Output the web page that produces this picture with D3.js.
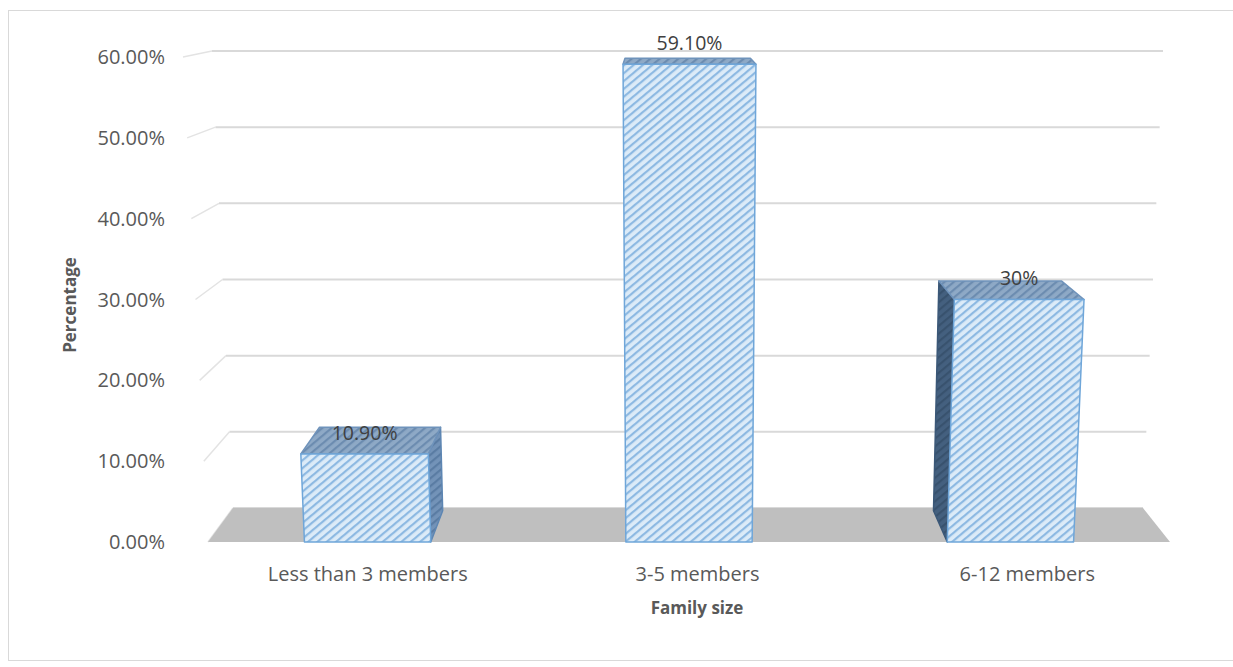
<!DOCTYPE html>
<html><head><meta charset="utf-8">
<script src="https://cdn.jsdelivr.net/npm/d3@7"></script>
<style>
body{margin:0;background:#fff}
svg{display:block}
text{font-family:"Open Sans",sans-serif}
</style>
</head><body>
<svg id="chart" width="1233" height="667"></svg>
<script>
// Family size distribution
const categories = ["Less than 3 members", "3-5 members", "6-12 members"];
const values = [0.109, 0.591, 0.30];
const valueLabels = ["10.90%", "59.10%", "30%"];
const tickValues = [0, 0.1, 0.2, 0.3, 0.4, 0.5, 0.6];
const tickLabels = ["0.00%", "10.00%", "20.00%", "30.00%", "40.00%", "50.00%", "60.00%"];
const xTitle = "Family size";
const yTitle = "Percentage";

const svg = d3.select("#chart");

// scales into the unit box (u across, v up, w into depth)
const xBand = d3.scaleBand().domain(categories).range([0, 1]).paddingInner(0.607).paddingOuter(0.3);
const yVal = d3.scaleLinear().domain([0, 0.6]).range([0, 1]);
const depth = [0, 0.92];
// category labels sit in front of the floor, spread a little wider
const labelX = d3.scaleLinear().domain([0, 1]).range([204, 1191]);

// screen corners of the perspective plot box
const box = {
  fl0: [208, 542], fl1: [183, 57], fr0: [1170, 542], fr1: [1196, 57],
  bl0: [233, 508], bl1: [212, 51], br0: [1143, 508], br1: [1163, 51]
};
const lerp = (a, b, t) => [a[0] + (b[0] - a[0]) * t, a[1] + (b[1] - a[1]) * t];
function project(u, v, w) {
  const fl = lerp(box.fl0, box.fl1, v), fr = lerp(box.fr0, box.fr1, v);
  const bl = lerp(box.bl0, box.bl1, v), br = lerp(box.br0, box.br1, v);
  return lerp(lerp(fl, fr, u), lerp(bl, br, u), w);
}
const pts = arr => arr.map(p => p.join(",")).join(" ");

// hatch patterns
const defs = svg.append("defs");
function hatch(id, bg, fg) {
  const p = defs.append("pattern").attr("id", id).attr("patternUnits", "userSpaceOnUse")
    .attr("width", 6).attr("height", 6).attr("patternTransform", "rotate(-40)");
  p.append("rect").attr("width", 6).attr("height", 6).attr("fill", bg);
  p.append("rect").attr("width", 6).attr("height", 2.2).attr("fill", fg);
}
hatch("hFront", "#dcebf8", "#8db9e2");
hatch("hTop", "#8ea9c6", "#6c8cb0");
hatch("hRight", "#7393b8", "#5a7ca3");
hatch("hLeft", "#44607f", "#38526e");

// chart border
svg.append("rect").attr("x", 8.5).attr("y", 10.5).attr("width", 1240).attr("height", 650)
  .attr("fill", "none").attr("stroke", "#d9d9d9").attr("stroke-width", 1);

// gridlines: side wall segment then back wall
const grid = svg.append("g");
tickValues.forEach(t => {
  const v = yVal(t);
  const a = project(0, v, 0), b = project(0, v, 1), c = project(1, v, 1);
  grid.append("line").attr("x1", a[0]).attr("y1", a[1]).attr("x2", b[0]).attr("y2", b[1])
    .attr("stroke", "#e3e3e3").attr("stroke-width", 1.5);
  grid.append("line").attr("x1", b[0]).attr("y1", b[1]).attr("x2", c[0]).attr("y2", c[1])
    .attr("stroke", "#d9d9d9").attr("stroke-width", 2);
});

// floor
svg.append("polygon")
  .attr("points", pts([project(0, 0, 0), project(0, 0, 1), project(1, 0, 1), project(1, 0, 0)]))
  .attr("fill", "#bfbfbf");

// y tick labels along the front edge
svg.append("g").selectAll("text").data(tickValues).join("text")
  .attr("x", 165).attr("y", d => project(0, yVal(d), 0)[1])
  .attr("dy", "0.35em").attr("text-anchor", "end")
  .attr("font-size", 20).attr("fill", "#595959")
  .text((d, i) => tickLabels[i]);

// bars
const bars = svg.append("g");
categories.forEach((c, i) => {
  const u0 = xBand(c), u1 = u0 + xBand.bandwidth();
  const v1 = yVal(values[i]);
  const [w0, w1] = depth;
  const g = bars.append("g");
  const face = (corners, fill, stroke) => g.append("polygon")
    .attr("points", pts(corners.map(p => project(...p))))
    .attr("fill", fill).attr("stroke", stroke).attr("stroke-width", 1.5).attr("stroke-linejoin", "round");
  if (project(u0, 0, w1)[0] < project(u0, 0, w0)[0] - 0.5)
    face([[u0, 0, w0], [u0, 0, w1], [u0, v1, w1], [u0, v1, w0]], "url(#hLeft)", "#3b5878");
  if (project(u1, 0, w1)[0] > project(u1, 0, w0)[0] + 0.5)
    face([[u1, 0, w0], [u1, 0, w1], [u1, v1, w1], [u1, v1, w0]], "url(#hRight)", "#5d86b3");
  face([[u0, v1, w0], [u0, v1, w1], [u1, v1, w1], [u1, v1, w0]], "url(#hTop)", "#6f93bb");
  face([[u0, 0, w0], [u0, v1, w0], [u1, v1, w0], [u1, 0, w0]], "url(#hFront)", "#6fa6d9");
});

// value labels above each bar's front top edge
categories.forEach((c, i) => {
  const lp = project(xBand(c) + xBand.bandwidth() / 2, yVal(values[i]), 0);
  svg.append("text").attr("x", lp[0]).attr("y", lp[1] - 21).attr("dy", "0.35em")
    .attr("text-anchor", "middle").attr("font-size", 19.5).attr("fill", "#404040")
    .text(valueLabels[i]);
});

// category labels
svg.append("g").selectAll("text").data(categories).join("text")
  .attr("x", d => labelX(xBand(d) + xBand.bandwidth() / 2))
  .attr("y", 574).attr("dy", "0.35em").attr("text-anchor", "middle")
  .attr("font-size", 20).attr("fill", "#595959")
  .text(d => d);

// axis titles
svg.append("text").attr("x", 697).attr("y", 608).attr("dy", "0.35em")
  .attr("text-anchor", "middle").attr("font-size", 17).attr("font-weight", "bold").attr("fill", "#595959")
  .text(xTitle);
svg.append("text").attr("transform", "translate(70,305) rotate(-90)").attr("dy", "0.35em")
  .attr("text-anchor", "middle").attr("font-size", 17).attr("font-weight", "bold").attr("fill", "#595959")
  .text(yTitle);
</script>
</body></html>
